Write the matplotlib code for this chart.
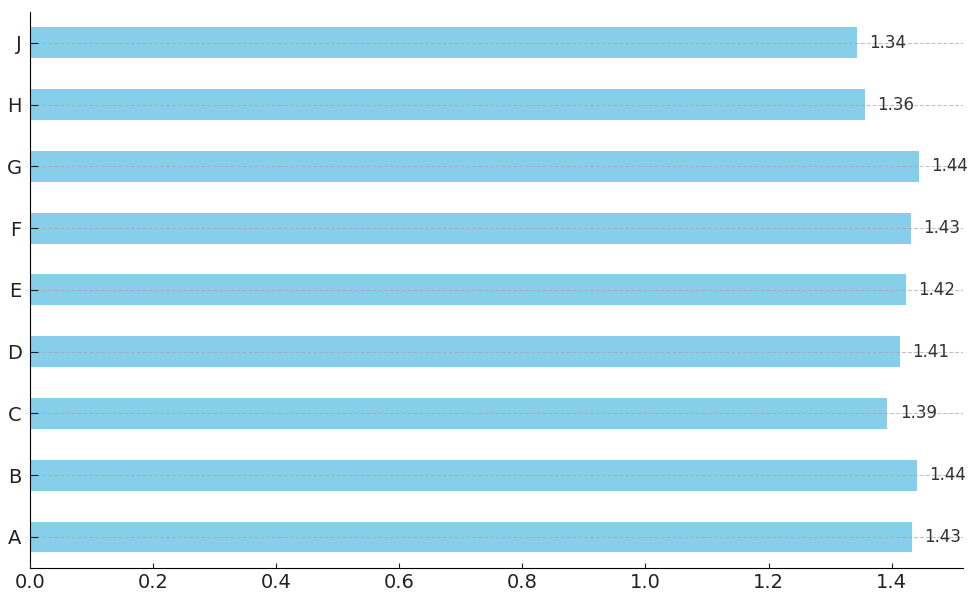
import matplotlib.pyplot as plt

categories = ['A', 'B', 'C', 'D', 'E', 'F', 'G', 'H', 'J']
values = [1.433, 1.441, 1.393, 1.413, 1.423, 1.431, 1.444, 1.357, 1.343]

fig = plt.figure(figsize=(9.69, 5.94), dpi=100)
ax = fig.add_axes([0.031, 0.044, 0.963, 0.936])

ax.barh(categories, values, height=0.5, color='skyblue')
for i, v in enumerate(values):
    ax.text(v + 0.02, i, f"{v:.2f}", va='center', ha='left', fontsize=12, color='#333333')

ax.set_ylim(-0.5, 8.5)
ax.set_axisbelow(False)
ax.grid(axis='y', linestyle='--', color='#aaaaaa', alpha=0.7, linewidth=0.8)
ax.spines['top'].set_visible(False)
ax.spines['right'].set_visible(False)
ax.tick_params(direction='in', labelsize=14, colors='#222222')
ax.tick_params(axis='y', length=6, pad=6)

plt.savefig('out.png', dpi=100)
